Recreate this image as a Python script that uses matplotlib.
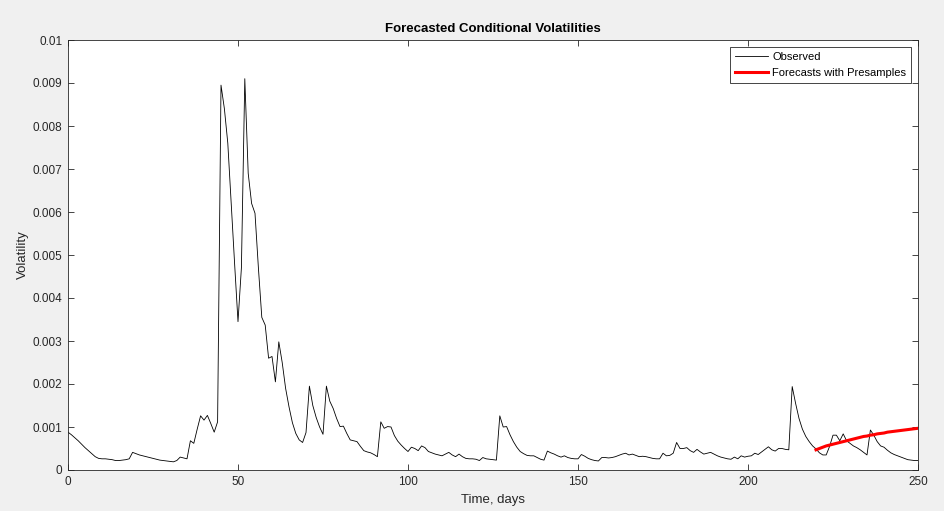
import matplotlib
matplotlib.use("Agg")
import matplotlib.pyplot as plt
import numpy as np
from matplotlib.ticker import FuncFormatter, MultipleLocator

plt.rcParams['font.family'] = ['Liberation Sans', 'DejaVu Sans']

# observed conditional volatility, days 0..250 (units of 1e-3)
observed = [
    0.88, 0.82, 0.75, 0.68, 0.60, 0.52, 0.45, 0.38, 0.31, 0.27,
    0.26, 0.26, 0.25, 0.24, 0.22, 0.22, 0.23, 0.24, 0.26, 0.41,
    0.38, 0.35, 0.33, 0.31, 0.29, 0.27, 0.25, 0.23, 0.22, 0.21,
    0.20, 0.19, 0.22, 0.30, 0.28, 0.26, 0.68, 0.62, 0.95, 1.26,
    1.16, 1.27, 1.08, 0.88, 1.12, 8.95, 8.40, 7.60, 6.20, 4.80,
    3.45, 4.70, 9.10, 6.90, 6.20, 5.97, 4.70, 3.55, 3.37, 2.60,
    2.64, 2.05, 2.98, 2.50, 1.90, 1.47, 1.10, 0.85, 0.70, 0.64,
    0.87, 1.95, 1.50, 1.22, 1.00, 0.83, 1.95, 1.60, 1.43, 1.20,
    1.01, 1.02, 0.85, 0.70, 0.68, 0.66, 0.55, 0.45, 0.42, 0.40,
    0.36, 0.31, 1.12, 0.97, 1.01, 1.00, 0.80, 0.67, 0.58, 0.50,
    0.43, 0.53, 0.50, 0.45, 0.56, 0.52, 0.43, 0.40, 0.37, 0.35,
    0.33, 0.37, 0.41, 0.35, 0.31, 0.37, 0.31, 0.27, 0.26, 0.26,
    0.25, 0.22, 0.29, 0.26, 0.25, 0.24, 0.23, 1.26, 1.00, 1.01,
    0.82, 0.66, 0.53, 0.43, 0.38, 0.34, 0.33, 0.33, 0.29, 0.25,
    0.23, 0.44, 0.40, 0.37, 0.33, 0.30, 0.33, 0.29, 0.27, 0.26,
    0.26, 0.36, 0.32, 0.27, 0.24, 0.22, 0.21, 0.29, 0.29, 0.28,
    0.29, 0.31, 0.34, 0.37, 0.39, 0.35, 0.37, 0.34, 0.31, 0.32,
    0.31, 0.29, 0.27, 0.26, 0.26, 0.39, 0.33, 0.34, 0.39, 0.64,
    0.50, 0.50, 0.52, 0.45, 0.41, 0.48, 0.42, 0.37, 0.39, 0.41,
    0.37, 0.33, 0.30, 0.28, 0.26, 0.25, 0.30, 0.26, 0.33, 0.30,
    0.32, 0.33, 0.39, 0.36, 0.42, 0.48, 0.54, 0.47, 0.44, 0.50,
    0.50, 0.48, 0.47, 1.94, 1.55, 1.20, 0.95, 0.78, 0.66, 0.56,
    0.49, 0.40, 0.35, 0.35, 0.55, 0.81, 0.81, 0.68, 0.84, 0.68,
    0.62, 0.56, 0.52, 0.47, 0.41, 0.35, 0.93, 0.81, 0.66, 0.56,
    0.53, 0.46, 0.40, 0.36, 0.33, 0.30, 0.27, 0.24, 0.23, 0.22,
    0.22,
]

# forecast horizon, days 220..250 (units of 1e-3)
forecast_start = 220
forecast = [
    0.47, 0.50, 0.53, 0.56, 0.58, 0.60, 0.62, 0.64, 0.66, 0.68,
    0.70, 0.72, 0.74, 0.76, 0.78, 0.79, 0.81, 0.82, 0.84, 0.85,
    0.86, 0.88, 0.89, 0.90, 0.91, 0.92, 0.93, 0.94, 0.95, 0.96,
    0.97,
]

obs = np.array(observed) * 1e-3
fc = np.array(forecast) * 1e-3
days = np.arange(len(obs))
fc_days = np.arange(forecast_start, forecast_start + len(fc))

fig = plt.figure(figsize=(9.45, 5.11), dpi=100, facecolor='#f0f0f0')
ax = fig.add_axes([68 / 945, 1 - 470 / 511, 850 / 945, 430 / 511])
ax.set_facecolor('white')

ax.plot(days, obs, color='black', lw=0.6, label='Observed')
ax.plot(fc_days, fc, color='red', lw=2.2, label='Forecasts with Presamples')

ax.set_xlim(0, 250)
ax.set_ylim(0, 0.01)
ax.xaxis.set_major_locator(MultipleLocator(50))
ax.yaxis.set_major_locator(MultipleLocator(0.001))
ax.yaxis.set_major_formatter(FuncFormatter(lambda v, p: '%g' % round(v, 4)))
ax.tick_params(direction='in', top=True, right=True, length=4, width=0.6,
               labelsize=8.5, colors='#262626', pad=4)
for s in ax.spines.values():
    s.set_linewidth(0.6)
    s.set_color('#262626')

ax.set_xlabel('Time, days', fontsize=9.5, color='#262626', labelpad=5)
ax.set_ylabel('Volatility', fontsize=9.5, color='#262626', labelpad=3)
ax.set_title('Forecasted Conditional Volatilities', fontsize=9.5,
             fontweight='bold', pad=6)

leg = ax.legend(loc='upper right', fontsize=8, fancybox=False, framealpha=1,
                edgecolor='#262626', borderpad=0.45, labelspacing=0.55,
                handlelength=3.0, handletextpad=0.4, borderaxespad=0.6)
leg.get_frame().set_linewidth(0.6)

plt.savefig('out.png', dpi=100, facecolor=fig.get_facecolor())
